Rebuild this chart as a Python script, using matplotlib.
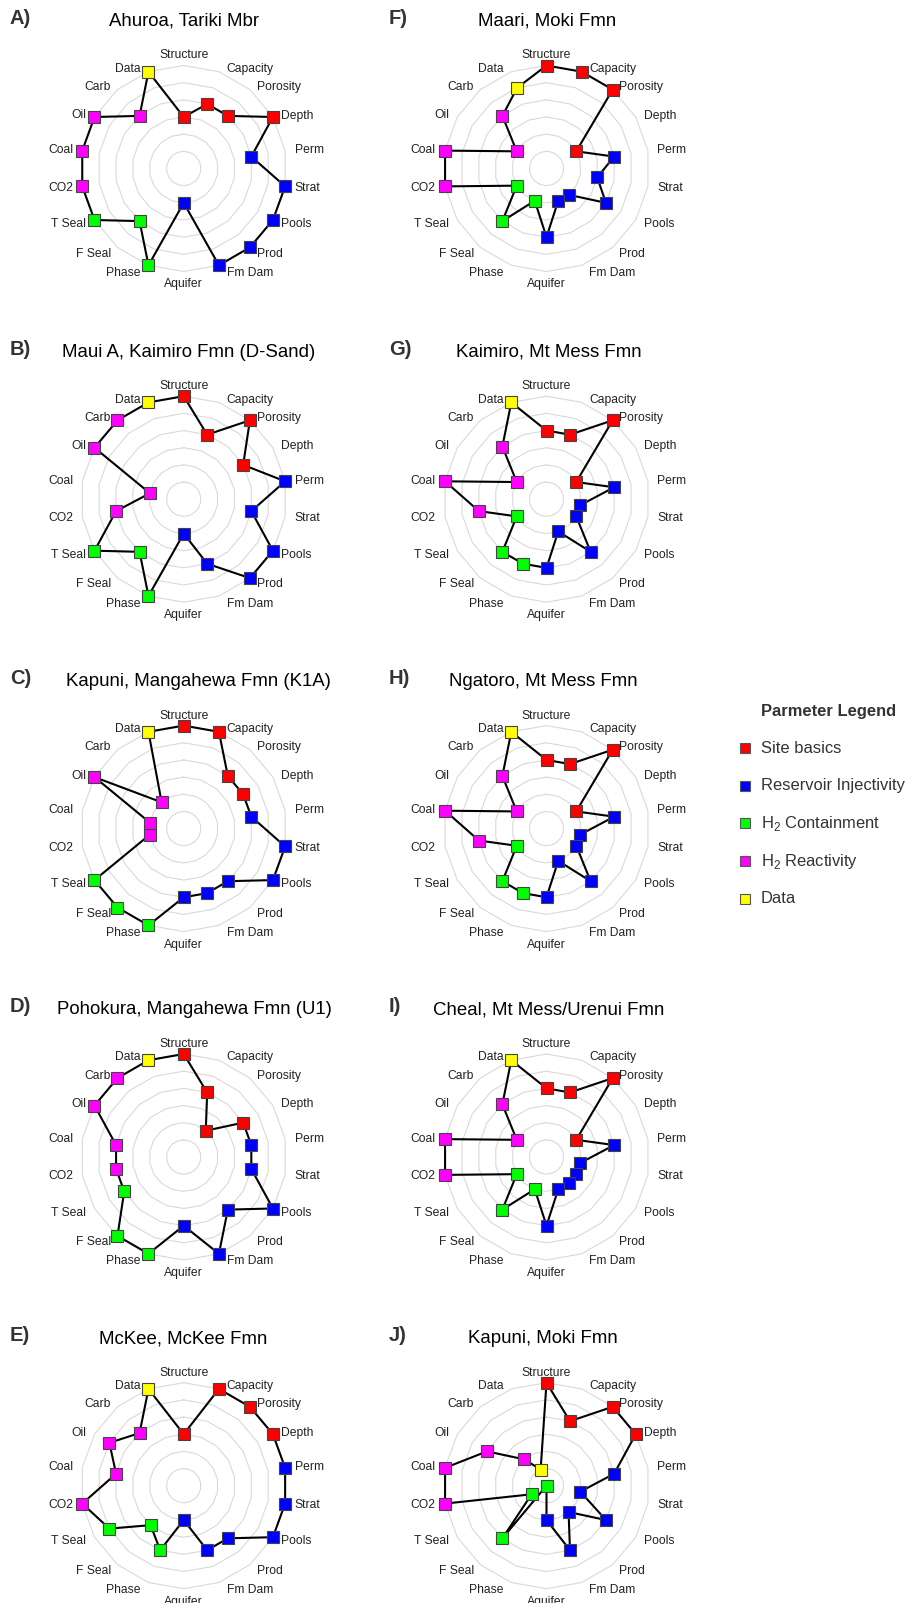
import numpy as np
import matplotlib.pyplot as plt
from matplotlib.lines import Line2D

plt.rcParams['font.family'] = ['Liberation Sans', 'DejaVu Sans']
plt.rcParams['mathtext.fontset'] = 'custom'
plt.rcParams['mathtext.rm'] = 'Liberation Sans'

W, H = 907, 1603

# 18 screening parameters, clockwise from the top
categories = ['Structure', 'Capacity', 'Porosity', 'Depth', 'Perm', 'Strat', 'Pools',
              'Prod', 'Fm Dam', 'Aquifer', 'Phase', 'F Seal', 'T Seal', 'CO2',
              'Coal', 'Oil', 'Carb', 'Data']
category_group = [0, 0, 0, 0, 1, 1, 1, 1, 1, 1, 2, 2, 2, 3, 3, 3, 3, 4]
group_names = ['Site basics', 'Reservoir Injectivity', 'H$_2$ Containment',
               'H$_2$ Reactivity', 'Data']
group_colors = ['#ff0000', '#0000ff', '#00ff00', '#ff00ff', '#ffff00']

panel_letters = ['A)', 'B)', 'C)', 'D)', 'E)', 'F)', 'G)', 'H)', 'I)', 'J)']
site_titles = ['Ahuroa, Tariki Mbr', 'Maui A, Kaimiro Fmn (D-Sand)',
               'Kapuni, Mangahewa Fmn (K1A)', 'Pohokura, Mangahewa Fmn (U1)',
               'McKee, McKee Fmn', 'Maari, Moki Fmn', 'Kaimiro, Mt Mess Fmn',
               'Ngatoro, Mt Mess Fmn', 'Cheal, Mt Mess/Urenui Fmn', 'Kapuni, Moki Fmn']

# scores (0-6) per site, in category order
ahuroa = [3, 4, 4, 6, 4, 6, 6, 6, 6, 2, 6, 4, 6, 6, 6, 6, 4, 6]
maui = [6, 4, 6, 4, 6, 4, 6, 6, 4, 2, 6, 4, 6, 4, 2, 6, 6, 6]
kapuni_k1a = [6, 6, 4, 4, 4, 6, 6, 4, 4, 4, 6, 6, 6, 2, 2, 6, 2, 6]
pohokura = [6, 4, 2, 4, 4, 4, 6, 4, 6, 4, 6, 6, 4, 4, 4, 6, 6, 6]
mckee = [3, 6, 6, 6, 6, 6, 6, 4, 4, 2, 4, 3, 5, 6, 4, 5, 4, 6]
maari = [6, 6, 6, 2, 4, 3, 4, 2, 2, 4, 2, 4, 2, 6, 6, 2, 4, 5]
kaimiro = [4, 4, 6, 2, 4, 2, 2, 4, 2, 4, 4, 4, 2, 4, 6, 2, 4, 6]
ngatoro = [4, 4, 6, 2, 4, 2, 2, 4, 2, 4, 4, 4, 2, 4, 6, 2, 4, 6]
cheal = [4, 4, 6, 2, 4, 2, 2, 2, 2, 4, 2, 4, 2, 6, 6, 2, 4, 6]
kapuni_moki = [6, 4, 6, 6, 4, 2, 4, 2, 4, 2, 0, 4, 1, 6, 6, 4, 2, 1]

site_scores = [ahuroa, maui, kapuni_k1a, pohokura, mckee,
               maari, kaimiro, ngatoro, cheal, kapuni_moki]

# layout in pixels
col_cx = [183.7, 546.5]
row_cy = [168.5, 499.2, 828.6, 1157.0, 1485.7]
title_x = [183.7, 189, 198, 194, 183, 547.5, 548.4, 543, 549, 543]
letter_x = [10, 389]
R = 103

fig = plt.figure(figsize=(W / 100, H / 100), dpi=100)

theta = np.arange(len(categories)) * 2 * np.pi / len(categories)
theta_closed = np.append(theta, theta[0])

for p, scores in enumerate(site_scores):
    col, row = divmod(p, 5)
    cx, cy = col_cx[col], row_cy[row]
    ax = fig.add_axes([(cx - R) / W, 1 - (cy + R) / H, 2 * R / W, 2 * R / H],
                      projection='polar')
    ax.set_theta_offset(np.pi / 2)
    ax.set_theta_direction(-1)
    ax.set_ylim(0, 6)
    ax.set_axis_off()

    for k in range(1, 7):
        ax.plot(theta_closed, [k] * len(theta_closed), color='#d9d9d9', lw=0.8,
                zorder=1, clip_on=False)

    vals = np.append(scores, scores[0])
    ax.plot(theta_closed, vals, color='black', lw=1.5, zorder=2, clip_on=False)
    for i, v in enumerate(scores):
        ax.plot(theta[i], v, marker='s', ms=8.2, mfc=group_colors[category_group[i]],
                mec='#444444', mew=0.8, zorder=3, clip_on=False)

    for i, name in enumerate(categories):
        phi = np.deg2rad(90 - 20 * i)
        c, s = np.cos(phi), np.sin(phi)
        if abs(c) < 0.05:
            ha = 'center'
            dx, dy = 0, (10 if s > 0 else 13) * s
        else:
            ha = 'left' if c > 0 else 'right'
            dx = 8 * c + np.sign(c) * (1.5 + (3.5 if abs(c) < 0.4 else 0))
            dy = 8 * s - (5 * s if s > 0 else 0)
        ax.annotate(name, xy=(theta[i], 6), xytext=(dx, dy), textcoords='offset pixels',
                    ha=ha, va='center', fontsize=8.7, color='#222222')

    ty = cy - 147
    fig.text(title_x[p] / W, 1 - ty / H, site_titles[p], ha='center', va='center',
             fontsize=13.4, color='black')
    fig.text(letter_x[col] / W, 1 - (ty - 3) / H, panel_letters[p], ha='left',
             va='center', fontsize=14.5, weight='bold', color='#333333')

# legend
fig.text(761 / W, 1 - 711.7 / H, 'Parmeter Legend', ha='left', va='center',
         fontsize=11.9, weight='bold', color='#333333')
for k, (name, colr) in enumerate(zip(group_names, group_colors)):
    y = 748.3 + 37.6 * k
    fig.add_artist(Line2D([744.7 / W], [1 - y / H], marker='s', ms=7.7, mfc=colr,
                          mec='#555555', mew=0.8, transform=fig.transFigure))
    fig.text(761 / W, 1 - y / H, name, ha='left', va='center', fontsize=11.9,
             color='#333333')

fig.savefig('out.png', dpi=100)
